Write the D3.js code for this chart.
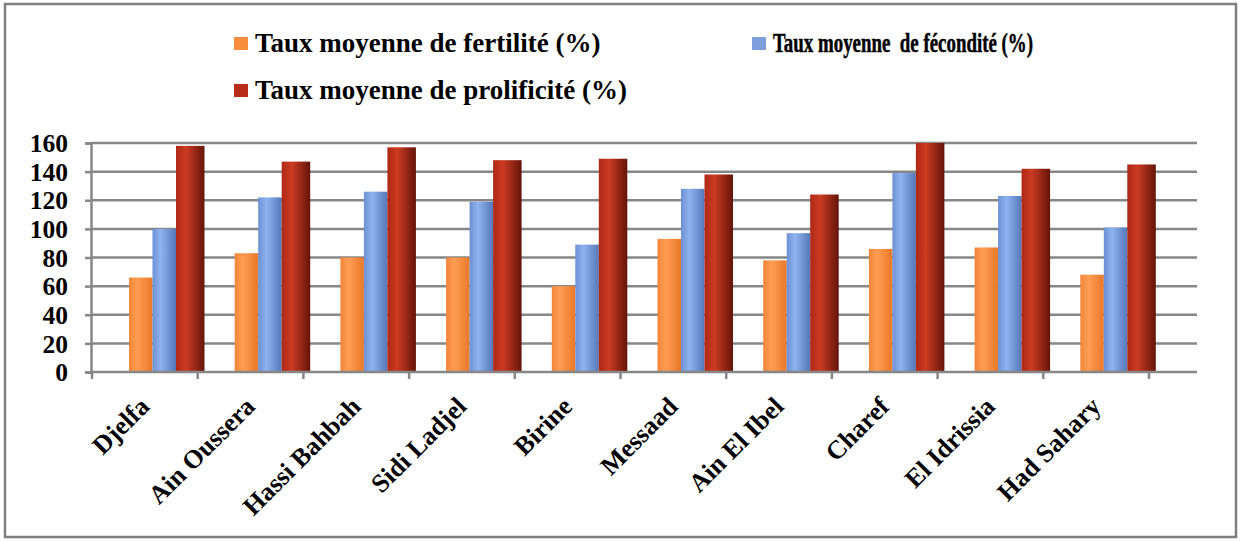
<!DOCTYPE html>
<html>
<head>
<meta charset="utf-8">
<script src="https://cdn.jsdelivr.net/npm/d3@7"></script>
<style>
  body { margin: 0; background: #fff; }
  svg text { font-family: "Liberation Serif", "DejaVu Serif", serif; font-weight: bold; fill: #000; white-space: pre; }
</style>
</head>
<body>
<svg width="1240" height="541"></svg>
<script>
const regions = ["Djelfa", "Ain Oussera", "Hassi Bahbah", "Sidi Ladjel", "Birine", "Messaad", "Ain El Ibel", "Charef", "El Idrissia", "Had Sahary"];
const fertilite = [66, 83, 80, 80, 60, 93, 78, 86, 87, 68];
const fecondite = [100, 122, 126, 119, 89, 128, 97, 139, 123, 101];
const prolificite = [158, 147, 157, 148, 149, 138, 124, 160, 142, 145];
const seriesNames = ["Taux moyenne de fertilité (%)", "Taux moyenne  de fécondité (%)", "Taux moyenne de prolificité (%)"];
const yTicks = [0, 20, 40, 60, 80, 100, 120, 140, 160];

const series = [
  { name: seriesNames[0], values: fertilite, color: "#f98d3e", stops: ["#f0863a", "#ff9d52", "#e9782a"] },
  { name: seriesNames[1], values: fecondite, color: "#7f9fdc", stops: ["#6c90d2", "#8fb3f0", "#5677b8"] },
  { name: seriesNames[2], values: prolificite, color: "#b82d19", stops: ["#ae2816", "#cc3b22", "#64140a"] }
];

const svg = d3.select("svg");

// cadre
svg.append("rect")
  .attr("x", 5).attr("y", 4).attr("width", 1231).attr("height", 533)
  .attr("fill", "#fff").attr("stroke", "#7f7f7f").attr("stroke-width", 2.5);

const defs = svg.append("defs");
series.forEach((s, i) => {
  const g = defs.append("linearGradient").attr("id", "grad" + i)
    .attr("x1", "0%").attr("x2", "100%").attr("y1", "0%").attr("y2", "0%");
  g.append("stop").attr("offset", "0%").attr("stop-color", s.stops[0]);
  g.append("stop").attr("offset", "35%").attr("stop-color", s.stops[1]);
  g.append("stop").attr("offset", "100%").attr("stop-color", s.stops[2]);
});

const plotLeft = 91, plotRight = 1197, plotTop = 143, plotBottom = 372;
const catRight = 1149;

const x = d3.scaleBand().domain(regions).range([plotLeft + 1, catRight]);
const y = d3.scaleLinear().domain([0, 160]).range([plotBottom, plotTop]);
const groupOffset = x.bandwidth() * 0.35;
const xs = d3.scaleBand().domain(d3.range(series.length)).range([0, x.bandwidth() * 0.667]);

// grille
svg.append("g")
  .selectAll("line")
  .data(yTicks.slice(1))
  .join("line")
  .attr("x1", plotLeft).attr("x2", plotRight)
  .attr("y1", d => y(d)).attr("y2", d => y(d))
  .attr("stroke", "#878787").attr("stroke-width", 2.5);

// barres
series.forEach((s, i) => {
  svg.append("g")
    .selectAll("rect")
    .data(regions)
    .join("rect")
    .attr("x", (d, j) => x(d) + groupOffset + xs(i))
    .attr("y", (d, j) => y(s.values[j]))
    .attr("width", i === 2 ? xs.bandwidth() + 5 : xs.bandwidth())
    .attr("height", (d, j) => y(0) - y(s.values[j]))
    .attr("fill", "url(#grad" + i + ")");
});

// axe Y
const yAxis = svg.append("g")
  .attr("transform", `translate(${plotLeft},0)`)
  .call(d3.axisLeft(y).tickValues(yTicks).tickSize(6).tickPadding(17));
yAxis.attr("font-family", null).attr("font-size", null);
yAxis.select(".domain").attr("stroke", "#878787").attr("stroke-width", 2.5);
yAxis.selectAll(".tick line").attr("stroke", "#878787").attr("stroke-width", 2.5);
yAxis.selectAll("text")
  .style("font-size", "25.5px")
  .attr("dy", "0.34em");

// axe X
const xAxis = svg.append("g").attr("transform", `translate(0,${plotBottom})`);
xAxis.append("line")
  .attr("x1", plotLeft).attr("x2", plotRight)
  .attr("stroke", "#878787").attr("stroke-width", 2.5);
xAxis.selectAll("line.tk")
  .data(regions.concat(["__end"]))
  .join("line")
  .attr("class", "tk")
  .attr("x1", d => d === "__end" ? catRight : x(d))
  .attr("x2", d => d === "__end" ? catRight : x(d))
  .attr("y1", 0).attr("y2", 7)
  .attr("stroke", "#878787").attr("stroke-width", 2.5);
xAxis.selectAll("text")
  .data(regions)
  .join("text")
  .attr("transform", d => `translate(${x(d) + x.bandwidth() / 2 + 6},36) rotate(-45)`)
  .attr("text-anchor", "end")
  .style("font-size", "26px")
  .text(d => d);

// légende (le 2e libellé est plus étroit dans l'original)
const legendPos = [[234, 43.5], [752, 43.5], [234, 90.5]];
const legend = svg.append("g")
  .selectAll("g")
  .data(series)
  .join("g")
  .attr("transform", (d, i) => `translate(${legendPos[i][0]},${legendPos[i][1]})`);
legend.append("rect")
  .attr("x", 0).attr("y", -6.5).attr("width", 14).attr("height", 13)
  .attr("fill", d => d.color);
legend.append("text")
  .attr("x", 21).attr("y", 8.5)
  .style("font-size", "27px")
  .attr("textLength", (d, i) => i === 1 ? 260 : null)
  .attr("lengthAdjust", "spacingAndGlyphs")
  .attr("stroke", (d, i) => i === 1 ? "#000" : null)
  .attr("stroke-width", (d, i) => i === 1 ? 0.5 : null)
  .text(d => d.name);
</script>
</body>
</html>
